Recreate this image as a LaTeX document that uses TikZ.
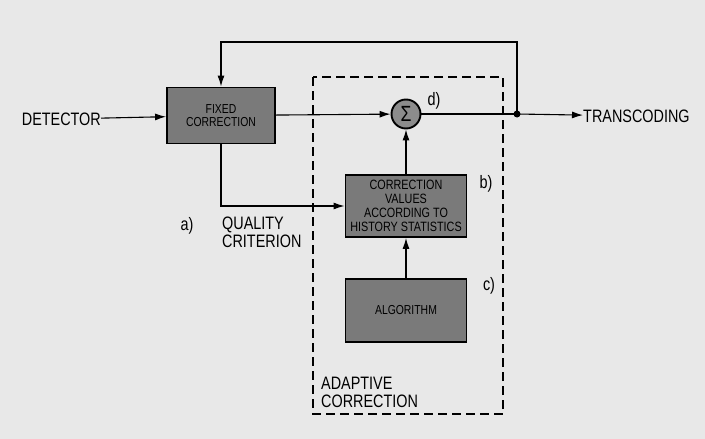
\documentclass[tikz,border=0pt]{standalone}
\usepackage{fontspec}
\setmainfont{Liberation Sans}[FakeStretch=0.8]
\usepackage{tikz}
\usetikzlibrary{arrows.meta,positioning}

\begin{document}
\begin{tikzpicture}[
  x=1pt, y=-1pt,
  block/.style={rectangle, draw, line width=1.9pt, fill=black!52, align=center, font=\fontsize{13}{13.5}\selectfont, inner sep=1pt},
  sumnode/.style={circle, draw, line width=1.9pt, fill=black!45, minimum size=29pt, inner sep=0pt},
  lbl/.style={font=\fontsize{18}{19}\selectfont, inner sep=0pt},
  arr/.style={-{Latex[length=11pt,width=7pt]}, line width=1.1pt},
  ln/.style={line width=1.1pt}
]
  \fill[black!9] (0,0) rectangle (705,439);
  \useasboundingbox (0,0) rectangle (705,439);

  % adaptive part
  \draw[line width=1.1pt, dash pattern=on 9pt off 5pt] (313,77) rectangle (503,414);
  \node[lbl, anchor=west, align=left] (adapt) at (321,392) {ADAPTIVE\\[-1pt]CORRECTION};

  \node[block, minimum width=108pt, minimum height=56pt] (fixed) at (221,115.5) {FIXED\\CORRECTION};
  \node[sumnode] (sum) at (406,114) {\fontsize{22}{22}\selectfont Σ};
  \node[block, minimum width=121pt, minimum height=62pt, font=\fontsize{13.5}{14}\selectfont] (corr) at (406,206) {CORRECTION\\VALUES\\ACCORDING TO\\HISTORY STATISTICS};
  \node[block, minimum width=121pt, minimum height=63pt] (algo) at (406,310.5) {ALGORITHM};

  \node[lbl, anchor=east] (det) at (101,119) {DETECTOR};
  \node[lbl, anchor=west] (trans) at (583,116) {TRANSCODING};
  \node[lbl] (la) at (187,226) {a)};
  \node[lbl] (lb) at (486,184) {b)};
  \node[lbl] (lc) at (489,286) {c)};
  \node[lbl] (ld) at (434,101) {d)};
  \node[lbl, anchor=north west, align=left] (qual) at (222,217) {QUALITY\\[-1pt]CRITERION};

  \fill (517,114) circle (3.5pt) coordinate (junc);
  \coordinate (fbtop) at (517,42);

  \draw[arr] (det) -- (fixed);
  \draw[arr] (fixed) -- (sum);
  \draw[ln] (sum) -- (junc);
  \draw[arr] (junc) -- (trans);
  \draw[arr] (junc) -- (fbtop) -| (fixed.north);
  \draw[arr] (fixed.south) |- (corr.west);
  \draw[arr] (corr) -- (sum);
  \draw[arr] (algo) -- (corr);
\end{tikzpicture}
\end{document}
